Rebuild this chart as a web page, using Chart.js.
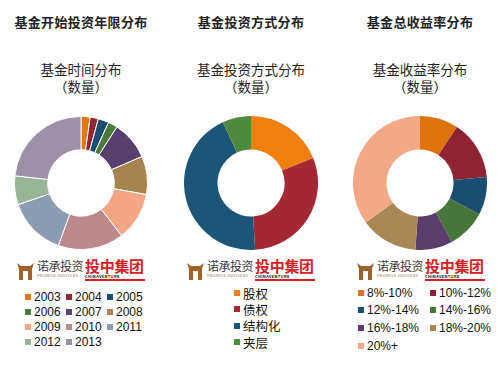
<!DOCTYPE html>
<html>
<head>
<meta charset="utf-8">
<script src="https://cdn.jsdelivr.net/npm/chart.js@4"></script>
<style>
  body { margin: 0; width: 502px; height: 365px; background: #fff; position: relative; overflow: hidden;
         font-family: "Liberation Sans", Arial, "Noto Sans CJK SC", sans-serif; color: #222; }
  .abs { position: absolute; }
  .title { font-family: "Noto Sans CJK SC", sans-serif; font-weight: bold; font-size: 13px; width: 170px; text-align: center; color: #222; letter-spacing: 0.3px; }
  .sub { font-family: "Noto Sans CJK SC", sans-serif; font-size: 13.5px; width: 170px; text-align: center; line-height: 17px; color: #222; }
  .box { width: 134px; height: 134px; }
  .legend { display: grid; font-size: 12px; color: #111; }
  .legend div { display: flex; align-items: center; white-space: nowrap; }
  .legend i { display: inline-block; width: 6px; height: 6px; margin-right: 3px; }
  .cjk { font-family: "Noto Sans CJK SC", sans-serif; font-size: 12.5px; }
  .logo { height: 22px; width: 130px; }
  .nc { position: absolute; left: 20px; top: 0; font-family: "Noto Sans CJK SC", sans-serif; font-size: 12px; color: #3a3a3a; line-height: 14px; letter-spacing: -0.5px; }
  .nc small, .tz small { display: block; font-size: 4px; line-height: 5px; letter-spacing: 0.3px; }
  .nc small { color: #a0764a; }
  .tz { position: absolute; left: 68px; top: -2px; font-family: "Noto Sans CJK SC", sans-serif; font-weight: bold; font-size: 15px; color: #d81e25; line-height: 17px; letter-spacing: -0.3px; }
  .tz small { color: #111; font-weight: bold; border-bottom: 2px solid #d81e25; width: 60px; }
</style>
</head>
<body>
<script>
// panel 1: fund start year
const yearLabels = ['2003', '2004', '2005', '2006', '2007', '2008', '2009', '2010', '2011', '2012', '2013'];
const yearValues = [2.2, 2.0, 2.6, 2.3, 9.4, 9.3, 11.8, 16.0, 14.2, 7.0, 23.3];
const yearColors = ['#E4770E', '#962634', '#1B4F72', '#4A7B3B', '#57406E', '#A6834F', '#F2A683', '#BC8A8D', '#8B9BB0', '#99B497', '#9E90A7'];

// panel 2: investment type
const typeLabels = ['股权', '债权', '结构化', '夹层'];
const typeValues = [18.9, 30.1, 44.1, 6.9];
const typeColors = ['#EF7F0F', '#A32735', '#1D5579', '#4E8A3E'];

// panel 3: total return
const rateLabels = ['8%-10%', '10%-12%', '12%-14%', '14%-16%', '16%-18%', '18%-20%', '20%+'];
const rateValues = [9.3, 14.3, 9.1, 9.4, 9.0, 13.9, 35.0];
const rateColors = ['#DE720B', '#902333', '#1A4E70', '#47763A', '#5A3E6C', '#A98754', '#F3A985'];

const panels = [
  { cx: 81, title: '基金开始投资年限分布', sub: '基金时间分布', labels: yearLabels, values: yearValues, colors: yearColors, border: 1,
    legend: { left: 25, top: 289, cols: '41px 41px 41px', rowH: 15, cjk: false } },
  { cx: 251, title: '基金投资方式分布', sub: '基金投资方式分布', labels: typeLabels, values: typeValues, colors: typeColors, border: 0,
    legend: { left: 234, top: 285, cols: '80px', rowH: 16.3, cjk: true } },
  { cx: 420, title: '基金总收益率分布', sub: '基金收益率分布', labels: rateLabels, values: rateValues, colors: rateColors, border: 0,
    legend: { left: 358, top: 284, cols: '72px 72px', rowH: 17.6, cjk: false } },
];

function el(cls, style, html) {
  const d = document.createElement('div');
  d.className = cls;
  Object.assign(d.style, style);
  if (html) d.innerHTML = html;
  document.body.appendChild(d);
  return d;
}

const iconSvg = '<svg width="17" height="17" viewBox="0 0 17 17" style="position:absolute;left:0;top:4px">' +
  '<path d="M0 0 L4 3 L13 3 L17 0 L15 6 L15 17 L11 17 L11 8 L6 8 L6 17 L2 17 L2 6 Z" fill="#a0622a"/></svg>';

panels.forEach((p, i) => {
  el('abs title', { left: (p.cx - 85) + 'px', top: '12px' }, p.title);
  el('abs sub', { left: (p.cx - 85) + 'px', top: '61px' }, p.sub + '<br>（数量）');

  const box = el('abs box', { left: (p.cx - 67) + 'px', top: '116px' });
  const canvas = document.createElement('canvas');
  box.appendChild(canvas);
  new Chart(canvas.getContext('2d'), {
    type: 'doughnut',
    data: {
      labels: p.labels,
      datasets: [{
        data: p.values,
        backgroundColor: p.colors,
        borderColor: '#ffffff',
        borderWidth: p.border,
      }],
    },
    options: {
      responsive: true,
      maintainAspectRatio: false,
      animation: false,
      cutout: '50%',
      layout: { padding: 0 },
      plugins: {
        legend: { display: false },
        tooltip: { enabled: false },
      },
    },
  });

  const logoLeft = i === 0 ? 17 : i === 1 ? 187 : 357;
  el('abs logo', { left: logoLeft + 'px', top: '259px' },
    iconSvg + '<div class="nc">诺承投资<small>PROMISE ADVISERS</small></div>' +
    '<div class="tz">投中集团<small>CHINAVENTURE</small></div>');

  const lg = el('abs legend' + (p.legend.cjk ? ' cjk' : ''), {
    left: p.legend.left + 'px', top: p.legend.top + 'px',
    gridTemplateColumns: p.legend.cols, gridAutoRows: p.legend.rowH + 'px',
  });
  p.labels.forEach((lab, k) => {
    const item = document.createElement('div');
    item.innerHTML = '<i style="background:' + p.colors[k] + '"></i>' + lab;
    lg.appendChild(item);
  });
});
</script>
</body>
</html>
